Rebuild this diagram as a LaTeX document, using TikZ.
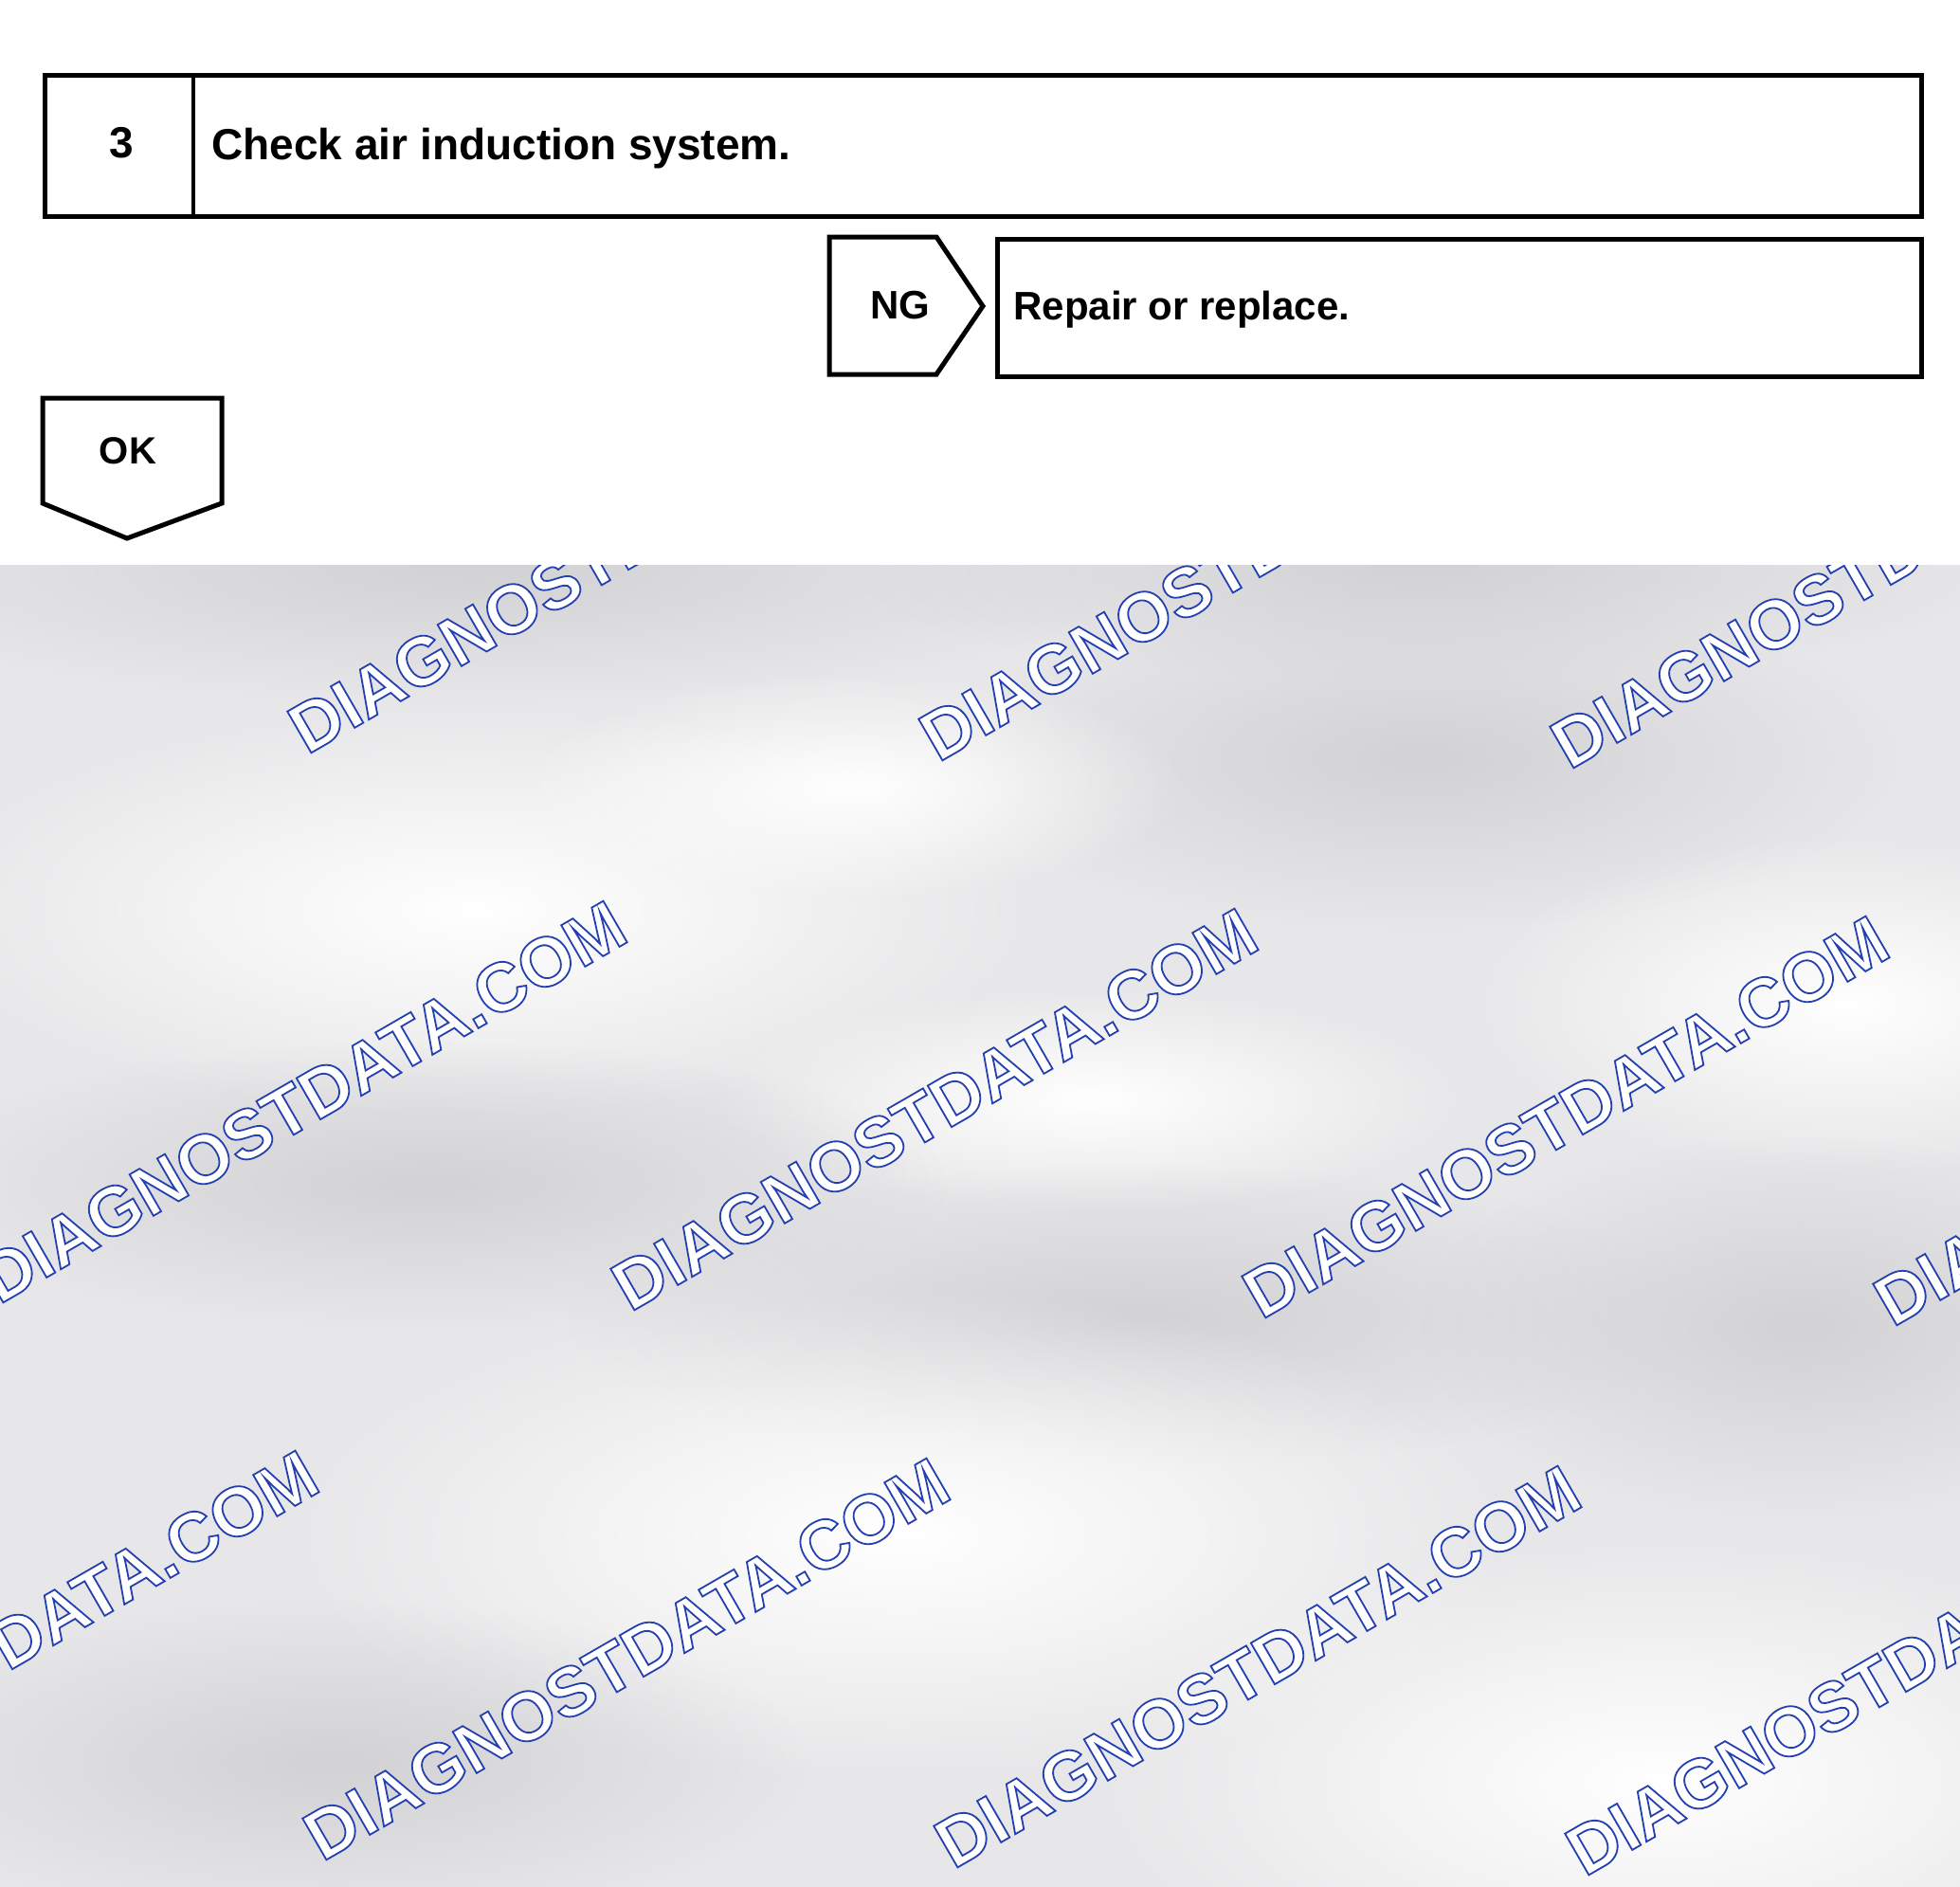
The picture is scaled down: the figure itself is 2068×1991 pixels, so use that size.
\documentclass[tikz,border=0pt]{standalone}
\usepackage{fontspec}
\setmainfont{Liberation Sans}
\usetikzlibrary{fadings}
\definecolor{bggray}{RGB}{231,231,233}
\definecolor{bgdark}{RGB}{210,210,213}
\tikzset{every picture/.style={line width=1.25pt}}
\tikzfading[name=blobfade, inner color=transparent!0, outer color=transparent!100]
\tikzset{
  wmark/.style={anchor=base west, inner sep=0pt, rotate=30, font=\bfseries\fontsize{18.3}{20}\selectfont},
  lbl/.style={inner sep=0pt, font=\bfseries\fontsize{11.5}{13}\selectfont},
  tag/.style={inner sep=0pt, font=\bfseries\fontsize{10.5}{12}\selectfont},
  darkblob/.style={fill=bgdark, path fading=blobfade},
  lightblob/.style={fill=white, path fading=blobfade}
}
% outlined watermark text: white fill, blue stroke
\newcommand{\wmtext}{{\color{white}\special{pdf:literal direct 2 Tr 0.45 w 0.14 0.25 0.69 RG}DIAGNOSTDATA.COM}}

\begin{document}
\begin{tikzpicture}[x=0.25pt,y=0.25pt,yscale=-1,xscale=1]
\useasboundingbox (0,0) rectangle (2068,1991);
\fill[white] (0,0) rectangle (2068,1991);

%Background with watermark
\begin{scope}
\clip (0,596) rectangle (2068,1991);
\fill[bggray] (0,596) rectangle (2068,1991);
\path[darkblob] (500,600) ellipse (700 and 140);
\path[darkblob] (1500,600) ellipse (600 and 120);
\path[darkblob] (1500,800) ellipse (500 and 180);
\path[lightblob] (500,960) ellipse (600 and 220);
\path[lightblob] (900,830) ellipse (350 and 120);
\path[lightblob] (1950,1060) ellipse (400 and 180);
\path[lightblob] (1150,1160) ellipse (400 and 120);
\path[darkblob] (450,1250) ellipse (550 and 150);
\path[darkblob] (1200,1390) ellipse (600 and 160);
\path[darkblob] (1900,1400) ellipse (400 and 200);
\path[lightblob] (950,1620) ellipse (650 and 260);
\path[darkblob] (350,1860) ellipse (500 and 170);
\path[lightblob] (1750,1880) ellipse (600 and 260);
\foreach \i in {-1,...,3}{
  \foreach \j in {0,1,2}{
    \node[wmark] (wm\i\j) at ({322+666*\i-325*\j},{798+8*\i+580*\j}) {\wmtext};
  }
}
\end{scope}

%Shape: Step box
\draw (47,79) -- (2027,79) -- (2027,228) -- (47,228) -- cycle ;
%Straight Lines
\draw [line width=1pt] (204,79) -- (204,228) ;
%Shape: NG tag
\draw (875,250) -- (988,250) -- (1037,323) -- (988,395) -- (875,395) -- cycle ;
%Shape: Repair box
\draw (1052,252) -- (2027,252) -- (2027,397) -- (1052,397) -- cycle ;
%Shape: OK tag
\draw (45,420) -- (234,420) -- (234,531) -- (134,568) -- (45,531) -- cycle ;

% Text Node
\node [lbl] (num) at (128,151) {3};
% Text Node
\node [lbl, anchor=base west] (check) at (221,168) {Check air induction system.};
% Text Node
\node [tag] (ng) at (950,322) {NG};
% Text Node
\node [tag, anchor=base west] (repair) at (1067,337) {Repair or replace.};
% Text Node
\node [tag, font=\bfseries\fontsize{10}{12}\selectfont] (ok) at (135,476) {OK};

\end{tikzpicture}
\end{document}
